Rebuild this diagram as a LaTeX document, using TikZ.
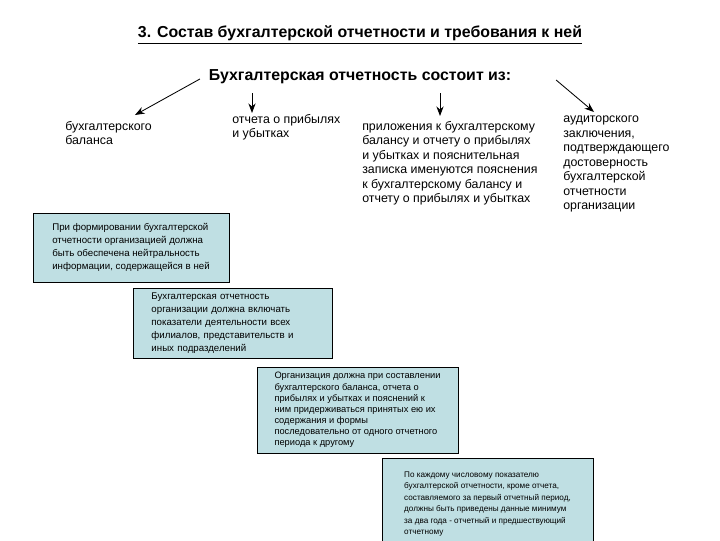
\documentclass[tikz,border=0pt]{standalone}
\usepackage{fontspec}
\setmainfont{Liberation Sans}
\usetikzlibrary{arrows.meta,calc}
\definecolor{reqfill}{RGB}{191,223,227}
\newcommand{\titlefont}{\fontsize{11.3}{13}\selectfont\bfseries}
\newcommand{\itemfont}{\fontsize{8.8}{10.3}\selectfont}
\newcommand{\reqfont}{\fontsize{6.9}{9.3}\selectfont}
\newcommand{\smallreqfont}{\fontsize{6.6}{7.9}\selectfont}
\newcommand{\tinyreqfont}{\fontsize{5.8}{8.1}\selectfont}
\tikzset{
    arrow/.style   = {-{Stealth[length=2.4mm,width=1.8mm]}, semithick},
    item/.style    = {anchor=north west, inner sep=0pt, align=left,
                      font=\itemfont},
    req/.style     = {draw, thin, fill=reqfill, inner sep=0pt, align=left,
                      font=\reqfont},
    smallreq/.style = {req, font=\smallreqfont},
    tinyreq/.style  = {req, font=\tinyreqfont}
}
\def\headrow{77}
\def\itemrow{121}

\begin{document}
\begin{tikzpicture}[x=0.025cm, y=-0.025cm]
\useasboundingbox (0,0) rectangle (720,540);
% headings
\node[font=\titlefont] (title) at (360,35)
  {\underline{3. Состав бухгалтерской отчетности и требования к ней}};
\node[font=\titlefont] (head) at (360,\headrow)
  {Бухгалтерская отчетность состоит из:};

% what the reporting consists of
\node[item] (balance) at (65,\itemrow) {бухгалтерского\\баланса};
\node[item] (profit) at (232,114) {отчета о прибылях\\и убытках};
\node[item] (annex) at (362,\itemrow)
  {приложения к бухгалтерскому\\балансу и отчету о прибылях\\
   и убытках и пояснительная\\записка именуются пояснения\\
   к бухгалтерскому балансу и\\отчету о прибылях и убытках};
\node[item] (audit) at (563,116)
  {аудиторского\\заключения,\\подтверждающего\\достоверность\\
   бухгалтерской\\отчетности\\организации};

\draw[arrow] ($(head.west)+(-4,2)$) -- ($(balance.north west)+(70,-6)$);
\draw[arrow] ($(profit.north west)+(20,-21)$)
  -- ($(profit.north west)+(20,-1)$);
\draw[arrow] ($(annex.north west)+(78,-28)$)
  -- ($(annex.north west)+(78,-5)$);
\draw[arrow] ($(head.east)+(40,3)$) -- ($(audit.north west)+(31,-4)$);

% requirements, stepping down to the right
\node[req, minimum width=4.9cm, minimum height=1.725cm]
  (neutral) at (131,247.5)
  {При формировании бухгалтерской\\отчетности организацией должна\\
   быть обеспечена нейтральность\\информации, содержащейся в ней};
\node[req, minimum width=4.975cm, minimum height=1.75cm, text width=4.05cm]
  (branches) at (232.5,323)
  {Бухгалтерская отчетность\\организации должна включать\\
   показатели деятельности всех\\филиалов, представительств и\\
   иных подразделений};
\node[smallreq, minimum width=5.025cm, minimum height=2.15cm]
  (form) at (357.5,410)
  {Организация должна при составлении\\бухгалтерского баланса, отчета о\\
   прибылях и убытках и пояснений к\\ним придерживаться принятых ею их\\
   содержания и формы\\последовательно от одного отчетного\\
   периода к другому};
\node[tinyreq, minimum width=5.275cm, minimum height=2.3cm]
  (twoyears) at (487.5,504)
  {По каждому числовому показателю\\бухгалтерской отчетности, кроме отчета,\\
   составляемого за первый отчетный период,\\
   должны быть приведены данные минимум\\
   за два года - отчетный и предшествующий\\отчетному};

\end{tikzpicture}
\end{document}
